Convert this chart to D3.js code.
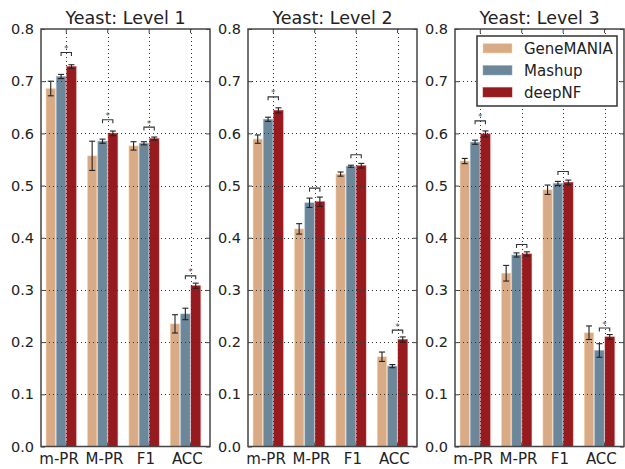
<!DOCTYPE html>
<html>
<head>
<meta charset="utf-8">
<script src="https://cdn.jsdelivr.net/npm/d3@7"></script>
<style>
  body { margin: 0; background: #fff; }
  text { font-family: "DejaVu Sans", sans-serif; fill: #222; }
</style>
</head>
<body>
<div id="chart"></div>
<script>
var w = 625, h = 469;

// data
var metrics = ["m-PR", "M-PR", "F1", "ACC"];
var methods = ["GeneMANIA", "Mashup", "deepNF"];
var colors = ["#d8aa86", "#6c8799", "#951b1f"];
var titles = ["Yeast: Level 1", "Yeast: Level 2", "Yeast: Level 3"];
var yTicks = [0.0, 0.1, 0.2, 0.3, 0.4, 0.5, 0.6, 0.7, 0.8];

// values[level][method][metric]
var values = [
  [[0.686, 0.557, 0.576, 0.235], [0.709, 0.585, 0.581, 0.254], [0.728, 0.600, 0.590, 0.308]],
  [[0.589, 0.417, 0.522, 0.172], [0.627, 0.467, 0.537, 0.154], [0.644, 0.469, 0.538, 0.205]],
  [[0.547, 0.332, 0.492, 0.218], [0.583, 0.367, 0.504, 0.184], [0.599, 0.369, 0.506, 0.210]]
];
var errors = [
  [[0.014, 0.028, 0.008, 0.0175], [0.004, 0.004, 0.003, 0.011], [0.0035, 0.0045, 0.003, 0.005]],
  [[0.008, 0.010, 0.004, 0.009], [0.004, 0.009, 0.002, 0.003], [0.005, 0.009, 0.0045, 0.005]],
  [[0.005, 0.015, 0.009, 0.013], [0.004, 0.004, 0.004, 0.013], [0.0057, 0.004, 0.0045, 0.0045]]
];
// Mashup vs deepNF comparison bracket height and significance star
var bracketY = [
  [0.755, 0.626, 0.612, 0.327],
  [0.670, 0.495, 0.559, 0.223],
  [0.624, 0.387, 0.527, 0.227]
];
var signif = [
  [true, true, true, true],
  [true, false, false, true],
  [true, false, false, true]
];

var panelLeft = [41, 248, 455], panelW = 169, plotTop = 29, plotBottom = 446.5;
var barW = 0.25;

var svg = d3.select("#chart").append("svg")
    .attr("width", w)
    .attr("height", h);

var yScale = d3.scaleLinear()
    .domain([0, 0.8])
    .range([plotBottom, plotTop]);

titles.forEach(function (title, p) {
    var L = panelLeft[p];
    var xScale = d3.scaleLinear()
        .domain([-0.11, 3.97])
        .range([L, L + panelW]);
    var g = svg.append("g");

    //BARS
    methods.forEach(function (m, k) {
        g.selectAll(null)
            .data(values[p][k])
            .enter().append("rect")
            .attr("x", function (d, i) { return xScale(i + k * barW) + 0.5; })
            .attr("y", function (d) { return yScale(d); })
            .attr("width", xScale(barW) - xScale(0) - 1)
            .attr("height", function (d) { return yScale(0) - yScale(d); })
            .attr("fill", colors[k])
            .attr("stroke", d3.color(colors[k]).brighter(0.7))
            .attr("stroke-opacity", 0.5)
            .attr("stroke-width", 1);
    });

    //GRID on top of bars, like the picture
    g.selectAll(null)
        .data(yTicks.slice(1, -1))
        .enter().append("line")
        .attr("x1", L).attr("x2", L + panelW)
        .attr("y1", function (d) { return Math.round(yScale(d)) + 0.5; })
        .attr("y2", function (d) { return Math.round(yScale(d)) + 0.5; })
        .attr("stroke", "#333")
        .attr("stroke-width", 1)
        .attr("stroke-dasharray", "1,3");
    g.selectAll(null)
        .data(metrics)
        .enter().append("line")
        .attr("x1", function (d, i) { return Math.round(xScale(i + 2 * barW)) + 0.5; })
        .attr("x2", function (d, i) { return Math.round(xScale(i + 2 * barW)) + 0.5; })
        .attr("y1", plotTop).attr("y2", plotBottom)
        .attr("stroke", "#333")
        .attr("stroke-width", 1)
        .attr("stroke-dasharray", "1,3");

    //ERROR BARS
    methods.forEach(function (m, k) {
        values[p][k].forEach(function (v, i) {
            var cx = xScale(i + k * barW + barW / 2);
            var e = errors[p][k][i];
            var y1 = yScale(v + e), y2 = yScale(v - e);
            g.append("line").attr("x1", cx).attr("x2", cx).attr("y1", y1).attr("y2", y2)
                .attr("stroke", "#222").attr("stroke-width", 1.1);
            [y1, y2].forEach(function (yy) {
                g.append("line").attr("x1", cx - 3).attr("x2", cx + 3).attr("y1", yy).attr("y2", yy)
                    .attr("stroke", "#222").attr("stroke-width", 1.1);
            });
        });
    });

    //SIGNIFICANCE BRACKETS (Mashup vs deepNF)
    metrics.forEach(function (mt, i) {
        var xa = xScale(i + 1.5 * barW), xb = xScale(i + 2.5 * barW);
        var yb = yScale(bracketY[p][i]);
        g.append("path")
            .attr("d", "M" + xa + "," + (yb + 3.5) + "V" + yb + "H" + xb + "V" + (yb + 3.5))
            .attr("fill", "none")
            .attr("stroke", "#333")
            .attr("stroke-width", 1.1);
        if (signif[p][i])
            g.append("text")
                .attr("x", (xa + xb) / 2)
                .attr("y", yb - 0.5)
                .attr("text-anchor", "middle")
                .style("font-size", "9px")
                .style("fill", "#555")
                .text("*");
    });

    //AXES with inward ticks on all sides
    var yAxisLeft = d3.axisLeft(yScale).tickValues(yTicks).tickFormat(d3.format(".1f"))
        .tickSizeInner(-4).tickSizeOuter(0).tickPadding(7);
    var ya = g.append("g").attr("transform", "translate(" + L + ",0)").call(yAxisLeft);
    ya.select(".domain").remove();
    ya.selectAll("text").style("font-size", "14.5px").style("fill", "#222");
    ya.selectAll("line").attr("stroke", "#444");

    var yAxisRight = d3.axisRight(yScale).tickValues(yTicks).tickFormat("")
        .tickSizeInner(-4).tickSizeOuter(0);
    var yr = g.append("g").attr("transform", "translate(" + (L + panelW) + ",0)").call(yAxisRight);
    yr.select(".domain").remove();
    yr.selectAll("line").attr("stroke", "#444");

    var tickX = metrics.map(function (d, i) { return xScale(i + 2 * barW); });
    tickX.forEach(function (tx) {
        g.append("line").attr("x1", tx).attr("x2", tx).attr("y1", plotBottom).attr("y2", plotBottom - 4).attr("stroke", "#444");
        g.append("line").attr("x1", tx).attr("x2", tx).attr("y1", plotTop).attr("y2", plotTop + 4).attr("stroke", "#444");
    });

    g.selectAll(null)
        .data(metrics)
        .enter().append("text")
        .attr("x", function (d, i) { return xScale(i + 1.5 * barW) + (i === 0 ? -2 : 2); })
        .attr("y", 464)
        .attr("text-anchor", "middle")
        .style("font-size", "15px")
        .text(function (d) { return d; });

    //FRAME
    g.append("rect")
        .attr("x", L).attr("y", plotTop)
        .attr("width", panelW).attr("height", plotBottom - plotTop)
        .attr("fill", "none")
        .attr("stroke", "#444")
        .attr("stroke-width", 1.5);

    //TITLE
    g.append("text")
        .attr("x", L + panelW / 2)
        .attr("y", 24)
        .attr("text-anchor", "middle")
        .style("font-size", "17.5px")
        .text(title);
});

//LEGEND in the third panel
var lg = svg.append("g").attr("transform", "translate(477,36)");
lg.append("rect")
    .attr("width", 140).attr("height", 70)
    .attr("fill", "#fff")
    .attr("stroke", "#333")
    .attr("stroke-width", 1.5);
methods.forEach(function (m, k) {
    lg.append("rect")
        .attr("x", 6).attr("y", 7.5 + k * 22)
        .attr("width", 29).attr("height", 9.5)
        .attr("fill", colors[k])
        .attr("stroke", d3.color(colors[k]).brighter(0.7))
        .attr("stroke-opacity", 0.5);
    lg.append("text")
        .attr("x", 47).attr("y", 17.5 + k * 22)
        .style("font-size", "15px")
        .text(m);
});
</script>
</body>
</html>
